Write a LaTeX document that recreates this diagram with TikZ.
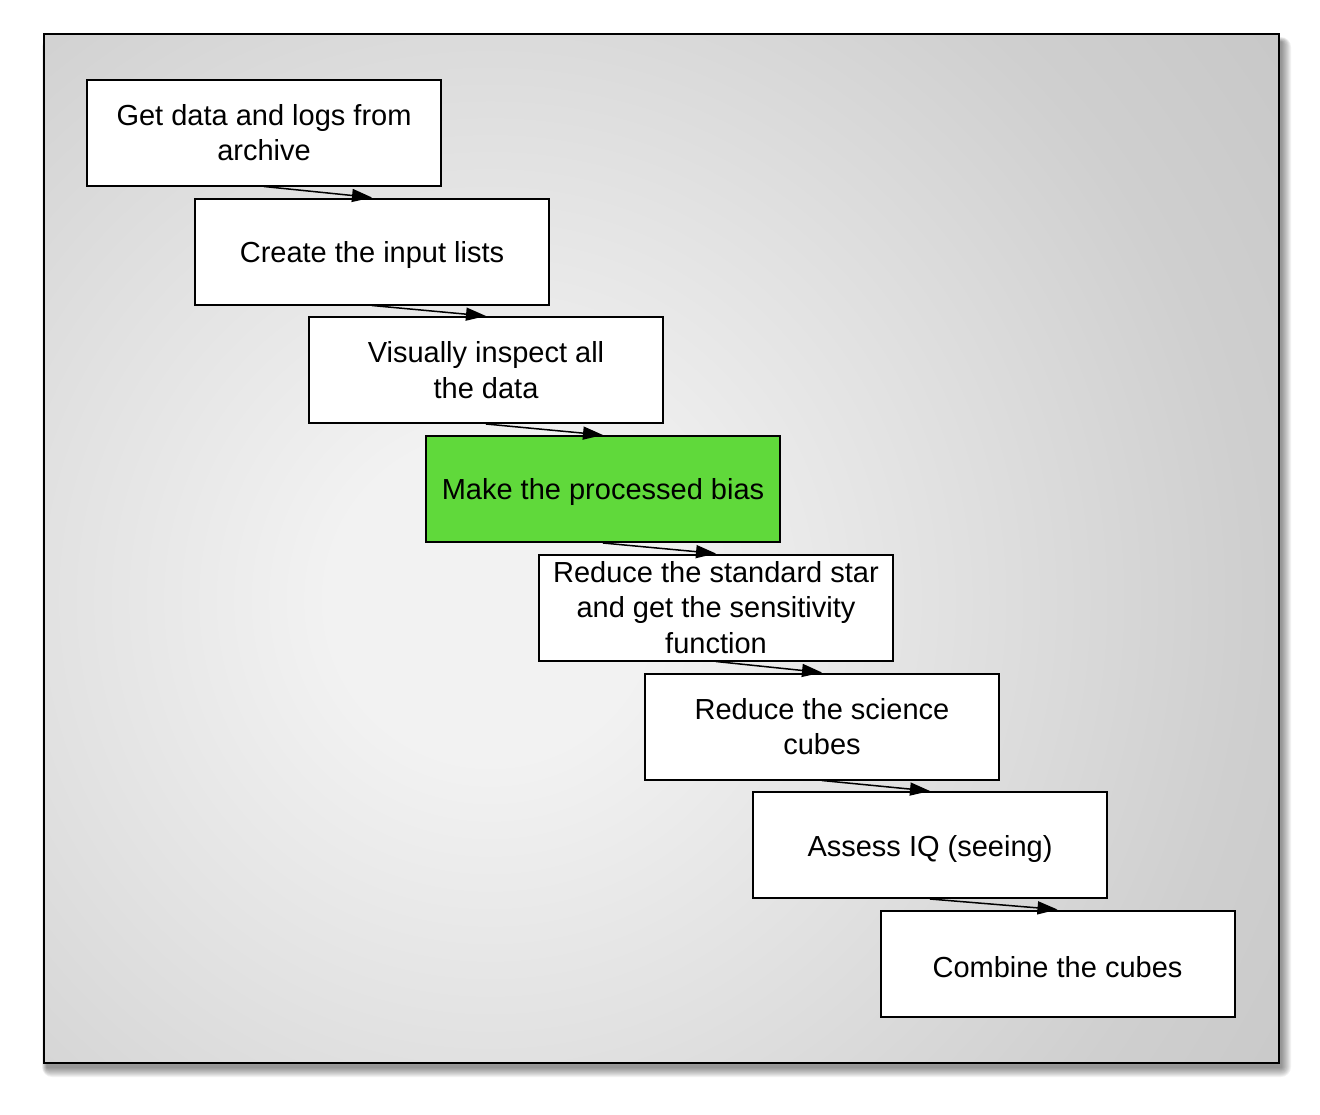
\documentclass[tikz,border=0pt]{standalone}
\usepackage{fontspec}
\setmainfont{Liberation Sans}
\usetikzlibrary{arrows.meta}
\definecolor{boxgreen}{HTML}{60D93B}
\definecolor{sh0}{HTML}{F2F2F2}
\definecolor{sh1}{HTML}{E2E2E2}
\definecolor{sh2}{HTML}{CFCFCF}
\definecolor{sh3}{HTML}{C4C4C4}
\definecolor{sh4}{HTML}{BCBCBC}
\definecolor{sh5}{HTML}{B8B8B8}
\pgfdeclareradialshading{panelshade}{\pgfpoint{0bp}{0bp}}{color(0bp)=(sh0); color(4bp)=(sh0); color(11bp)=(sh1); color(19bp)=(sh2); color(27bp)=(sh3); color(36bp)=(sh4); color(50bp)=(sh5)}
\newcommand\topstrut{\rule{0pt}{28pt}}
\begin{document}
\begin{tikzpicture}[x=1pt,y=-1pt,
  stepbox/.style={draw=black, line width=2pt, fill=white, minimum width=354pt, minimum height=106pt, inner sep=0pt, align=center, font=\fontsize{29}{35.5}\selectfont},
  arr/.style={line width=1.5pt, -{Triangle[length=20pt,width=13pt]}}]
\useasboundingbox (0,0) rectangle (1320,1114);
% shadow
\foreach \s in {1,...,10}
  \fill[black, opacity=0.05, rounded corners=\s pt] (44+3-\s*0.5, 34+8-\s*0.5) rectangle (1279+2+\s, 1063+4+\s);
% panel
\begin{scope}
  \clip (44,34) rectangle (1279,1063);
  \fill[shading=panelshade] (490,600) circle (1000pt);
\end{scope}
\draw[line width=2.2pt] (44,34) rectangle (1279,1063);
% boxes
\node[stepbox] (b1) at (264,132.5) {Get data and logs from\\archive};
\node[stepbox] (b2) at (372,251.5) {\topstrut Create the input lists};
\node[stepbox] (b3) at (486,370) {Visually inspect all\\the data};
\node[stepbox, fill=boxgreen] (b4) at (603,489) {\topstrut Make the processed bias};
\node[stepbox] (b5) at (716,607.5) {Reduce the standard star\\and get the sensitivity\\function};
\node[stepbox] (b6) at (822,726.5) {Reduce the science\\cubes};
\node[stepbox] (b7) at (930,845) {\topstrut Assess IQ (seeing)};
\node[stepbox] (b8) at (1057.5,963.5) {\topstrut Combine the cubes};
% arrows
\draw[arr] (b1.south) -- (b2.north);
\draw[arr] (b2.south) -- (b3.north);
\draw[arr] (b3.south) -- (b4.north);
\draw[arr] (b4.south) -- (b5.north);
\draw[arr] (b5.south) -- (b6.north);
\draw[arr] (b6.south) -- (b7.north);
\draw[arr] (b7.south) -- (b8.north);
\end{tikzpicture}
\end{document}
